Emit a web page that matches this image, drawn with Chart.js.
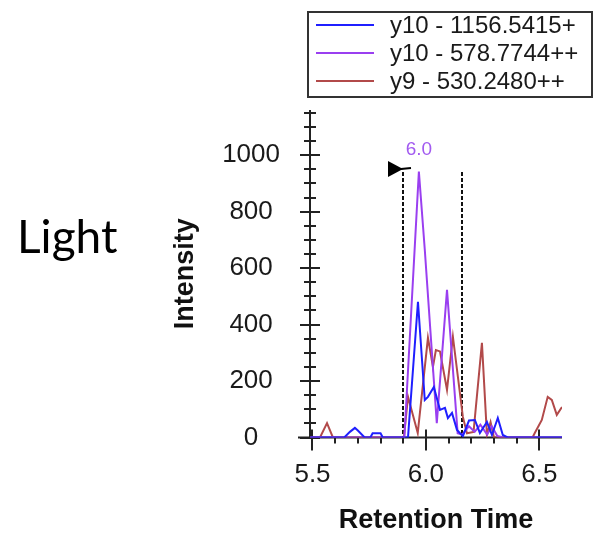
<!DOCTYPE html>
<html lang="en">
<head>
<meta charset="UTF-8">
<title>Light</title>
<style>
  * { margin: 0; padding: 0; }
  body { background: #fff; }
  canvas { display: block; }
</style>
</head>
<body>
<canvas id="myChart" width="595" height="536"></canvas>
<script src="https://cdn.jsdelivr.net/npm/chart.js@4.4.1/dist/chart.umd.min.js"></script>
<script>
const seriesLabels = ['y10 - 1156.5415+', 'y10 - 578.7744++', 'y9 - 530.2480++'];
const seriesColors = ['#1f1fff', '#9a3ff0', '#b24a4a'];

const blueTimes = [5.49, 5.64, 5.665, 5.687, 5.70, 5.73, 5.755, 5.765, 5.80, 5.81, 5.921, 5.965, 5.995, 6.009, 6.035, 6.062, 6.084, 6.097, 6.115, 6.137, 6.163, 6.19, 6.216, 6.238, 6.269, 6.291, 6.317, 6.339, 6.36, 6.6];
const blueIntensity = [0, 0, 20, 34, 25, 0, 0, 15, 15, 0, 0, 481, 133, 144, 179, 98, 105, 69, 87, 27, 5, 60, 62, 16, 55, 9, 69, 9, 0, 0];

const purpleTimes = [5.49, 5.905, 5.969, 5.995, 6.048, 6.093, 6.14, 6.16, 6.19, 6.215, 6.24, 6.27, 6.29, 6.315, 6.34, 6.6];
const purpleIntensity = [0, 0, 942, 666, 51, 523, 15, 10, 40, 20, 45, 10, 40, 5, 0, 0];

const brownTimes = [5.49, 5.533, 5.564, 5.59, 5.903, 5.921, 5.964, 6.009, 6.031, 6.044, 6.062, 6.093, 6.119, 6.163, 6.181, 6.21, 6.247, 6.269, 6.285, 6.30, 6.47, 6.48, 6.511, 6.537, 6.555, 6.577, 6.6];
const brownIntensity = [0, 0, 51, 0, 0, 144, 16, 353, 250, 310, 305, 169, 357, 73, 15, 20, 335, 10, 55, 0, 0, 16, 62, 144, 133, 80, 108];

const xTickValues = [5.5, 6.0, 6.5];
const yTickValues = [0, 200, 400, 600, 800, 1000];
const peakBounds = [5.90, 6.16];
const boundTop = 940;
const peakTime = 5.969;
const peakHeight = 942;
const peakLabel = '6.0';
const sideLabel = 'Light';

const font = "'Liberation Sans', Arial, sans-serif";

function points(ts, vs) {
    return ts.map((t, i) => ({ x: t, y: vs[i] }));
}

const decor = {
    id: 'decor',
    beforeDatasetsDraw(chart) {
        const { ctx, chartArea: a, scales: { x, y } } = chart;
        ctx.save();
        // integration boundaries
        ctx.strokeStyle = '#111';
        ctx.lineWidth = 2;
        ctx.setLineDash([4, 2]);
        peakBounds.forEach(t => {
            const px = Math.round(x.getPixelForValue(t));
            ctx.beginPath();
            ctx.moveTo(px, y.getPixelForValue(boundTop));
            ctx.lineTo(px, a.bottom);
            ctx.stroke();
        });
        ctx.setLineDash([]);

        // axes
        ctx.strokeStyle = '#222';
        ctx.beginPath();
        ctx.moveTo(a.left, a.top);
        ctx.lineTo(a.left, a.bottom);
        ctx.moveTo(a.left - 12, a.bottom);
        ctx.lineTo(a.right, a.bottom);
        ctx.stroke();

        // y ticks cross the axis
        ctx.beginPath();
        for (let v = 0; v <= y.max; v += 50) {
            const py = Math.round(y.getPixelForValue(v));
            const h = v % 200 === 0 ? 10 : 6;
            ctx.moveTo(a.left - h, py);
            ctx.lineTo(a.left + h, py);
        }
        // x ticks
        for (let i = 0; i <= 10; i++) {
            const px = Math.round(x.getPixelForValue(5.5 + i * 0.1));
            const major = i % 5 === 0;
            ctx.moveTo(px, a.bottom - (major ? 8 : 0));
            ctx.lineTo(px, a.bottom + (major ? 13 : 6));
        }
        ctx.stroke();
        ctx.restore();
    },
    afterDatasetsDraw(chart) {
        const { ctx, chartArea: a, scales: { x, y } } = chart;
        ctx.save();

        // flag on the left boundary
        const fx = Math.round(x.getPixelForValue(peakBounds[0]));
        const fy = y.getPixelForValue(boundTop) - 3;
        ctx.fillStyle = '#000';
        ctx.beginPath();
        ctx.moveTo(fx - 15, fy - 8);
        ctx.lineTo(fx - 15, fy + 8);
        ctx.lineTo(fx, fy);
        ctx.closePath();
        ctx.fill();
        ctx.strokeStyle = '#000';
        ctx.lineWidth = 2;
        ctx.beginPath();
        ctx.moveTo(fx - 2, fy);
        ctx.lineTo(fx + 8, fy - 1);
        ctx.stroke();

        // peak retention time label
        ctx.fillStyle = '#a25af0';
        ctx.font = '19px ' + font;
        ctx.textAlign = 'center';
        ctx.textBaseline = 'middle';
        ctx.fillText(peakLabel, x.getPixelForValue(peakTime), y.getPixelForValue(peakHeight) - 22);

        // legend box
        const lx = a.left - 2, ly = 12, lw = chart.width - 3 - lx, lh = 85;
        ctx.strokeStyle = '#333';
        ctx.lineWidth = 2;
        ctx.strokeRect(lx, ly, lw, lh);
        ctx.font = '24px ' + font;
        ctx.textAlign = 'left';
        chart.data.datasets.forEach((ds, i) => {
            const ry = ly + 13 + i * 28;
            ctx.strokeStyle = ds.borderColor;
            ctx.lineWidth = 2;
            ctx.beginPath();
            ctx.moveTo(lx + 8, ry);
            ctx.lineTo(lx + 66, ry);
            ctx.stroke();
            ctx.fillStyle = '#1a1a1a';
            ctx.fillText(ds.label, lx + 82, ry + 1);
        });

        // side label
        ctx.fillStyle = '#000';
        ctx.font = '46px Lato, "Open Sans", sans-serif';
        ctx.textBaseline = 'alphabetic';
        ctx.fillText(sideLabel, 17, 253);
        ctx.restore();
    }
};

new Chart('myChart', {
    type: 'line',
    data: {
        datasets: [
            { label: seriesLabels[0], data: points(blueTimes, blueIntensity), borderColor: seriesColors[0] },
            { label: seriesLabels[1], data: points(purpleTimes, purpleIntensity), borderColor: seriesColors[1] },
            { label: seriesLabels[2], data: points(brownTimes, brownIntensity), borderColor: seriesColors[2] }
        ]
    },
    options: {
        responsive: false,
        animation: false,
        devicePixelRatio: 1,
        datasets: { line: { borderWidth: 2, pointRadius: 0, tension: 0, fill: false } },
        layout: { padding: { top: 110, right: 33, left: 0, bottom: 0 } },
        plugins: { legend: { display: false }, tooltip: { enabled: false } },
        scales: {
            x: {
                type: 'linear',
                min: 5.489,
                max: 6.6,
                afterBuildTicks: s => { s.ticks = xTickValues.map(v => ({ value: v })); },
                afterFit: s => { s.height = 98.5; },
                ticks: {
                    callback: v => v.toFixed(1),
                    font: { family: font, size: 26 },
                    color: '#1a1a1a',
                    padding: 22,
                    maxRotation: 0,
                    autoSkip: false
                },
                grid: { display: false, drawTicks: false },
                border: { display: false },
                title: {
                    display: true,
                    text: 'Retention Time',
                    font: { family: font, size: 27, weight: 'bold', lineHeight: 1 },
                    color: '#111',
                    padding: { top: 0, bottom: 1.5 }
                }
            },
            y: {
                min: 0,
                max: 1160,
                afterBuildTicks: s => { s.ticks = yTickValues.map(v => ({ value: v })); },
                afterFit: s => { s.width = 310; },
                ticks: {
                    callback: v => String(v),
                    crossAlign: 'center',
                    padding: 30,
                    autoSkip: false,
                    font: { family: font, size: 26 },
                    color: '#1a1a1a'
                },
                grid: { display: false, drawTicks: false },
                border: { display: false },
                title: {
                    display: true,
                    text: 'Intensity',
                    font: { family: font, size: 27, weight: 'bold', lineHeight: 1 },
                    color: '#111',
                    padding: { top: 172.5, bottom: 0 }
                }
            }
        }
    },
    plugins: [decor]
});
</script>
</body>
</html>
